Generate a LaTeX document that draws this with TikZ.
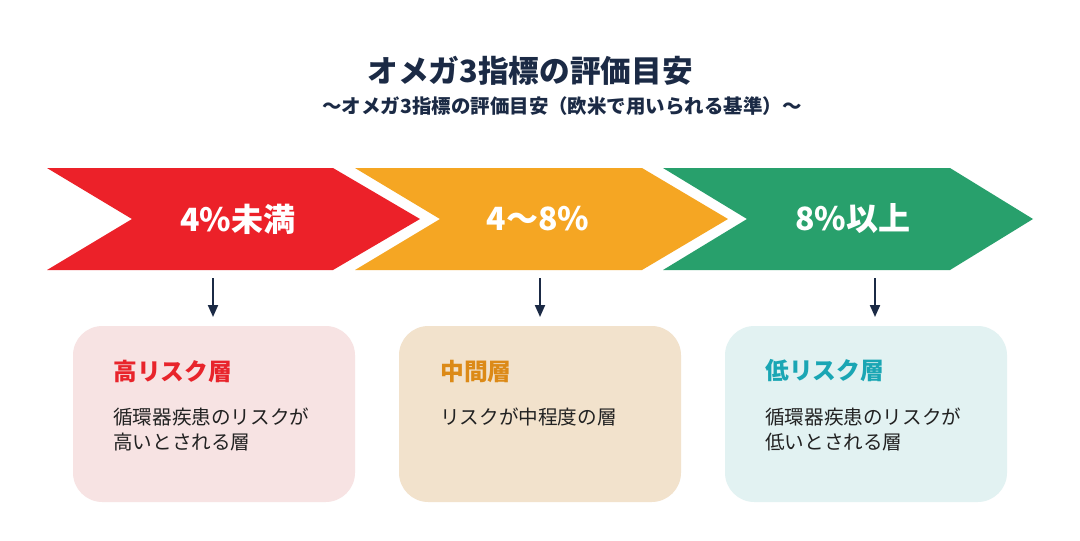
\documentclass[tikz,border=0pt]{standalone}
\usepackage{fontspec}
\setmainfont{Noto Sans CJK JP}
\newfontfamily\jp{Noto Sans CJK JP}
\usetikzlibrary{arrows.meta}
\definecolor{cred}{HTML}{EC2129}
\definecolor{corange}{HTML}{F5A623}
\definecolor{cgreen}{HTML}{28A06C}
\definecolor{cnavy}{HTML}{1B2A45}
\definecolor{bpink}{HTML}{F7E3E3}
\definecolor{bbeige}{HTML}{F2E2CC}
\definecolor{bcyan}{HTML}{E2F2F2}
\definecolor{tred}{HTML}{E8242B}
\definecolor{torange}{HTML}{DC8A17}
\definecolor{tteal}{HTML}{1AA6B4}
\definecolor{body}{HTML}{222222}
\begin{document}
\begin{tikzpicture}[x=0.75pt,y=-0.75pt,
  chevlabel/.style={text=white,font=\jp\bfseries\fontsize{24}{28}\selectfont,inner sep=0pt},
  box/.style={rounded corners=22pt,minimum width=211.5pt,minimum height=132pt,inner sep=0pt,draw=none},
  boxtitle/.style={anchor=west,font=\jp\bfseries\fontsize{17.8}{21}\selectfont,inner sep=0pt},
  boxbody/.style={anchor=west,font=\jp\fontsize{14.7}{18.75}\selectfont,text=body,inner sep=0pt,align=left},
  arr/.style={draw=cnavy,line width=1.5pt,-{Triangle[length=9pt,width=7.5pt]}}]
\useasboundingbox[fill=white] (0,0) rectangle (1080,540);
% title
\node[font=\jp\bfseries\fontsize{23}{27}\selectfont,text=cnavy,inner sep=0pt] (title) at (530,71) {オメガ3指標の評価目安};
\node[font=\jp\bfseries\fontsize{14.6}{17}\selectfont,text=cnavy,inner sep=0pt] (subtitle) at (562,106) {〜オメガ3指標の評価目安（欧米で用いられる基準）〜};
% chevrons
\fill[cred] (47,168) -- (333,168) -- (420,219) -- (333,270) -- (47,270) -- (132,219) -- cycle;
\fill[corange] (355,168) -- (642,168) -- (728,219) -- (642,270) -- (355,270) -- (440,219) -- cycle;
\fill[cgreen] (663,168) -- (950,168) -- (1033,219) -- (950,270) -- (663,270) -- (747,219) -- cycle;
\node[chevlabel] (c1) at (238,219) {4\%未満};
\node[chevlabel] (c2) at (538,219) {4〜8\%};
\node[chevlabel] (c3) at (853,219) {8\%以上};
% boxes
\node[box,fill=bpink] (b1) at (214,414) {};
\node[box,fill=bbeige] (b2) at (540,414) {};
\node[box,fill=bcyan] (b3) at (866,414) {};
\node[boxtitle,text=tred] (t1) at (113,371) {高リスク層};
\node[boxtitle,text=torange] (t2) at (440,371) {中間層};
\node[boxtitle,text=tteal] (t3) at (765,371) {低リスク層};
\node[boxbody] (d1a) at (113,417) {循環器疾患のリスクが};
\node[boxbody] (d1b) at (113,442) {高いとされる層};
\node[boxbody] (d2) at (440,417) {リスクが中程度の層};
\node[boxbody] (d3a) at (765,417) {循環器疾患のリスクが};
\node[boxbody] (d3b) at (765,442) {低いとされる層};
% arrows
\coordinate (s1) at (213,278); \coordinate (e1) at (213,317);
\coordinate (s2) at (540,278); \coordinate (e2) at (540,317);
\coordinate (s3) at (875,278); \coordinate (e3) at (875,317);
\draw[arr] (s1) -- (e1);
\draw[arr] (s2) -- (e2);
\draw[arr] (s3) -- (e3);
\end{tikzpicture}
\end{document}
